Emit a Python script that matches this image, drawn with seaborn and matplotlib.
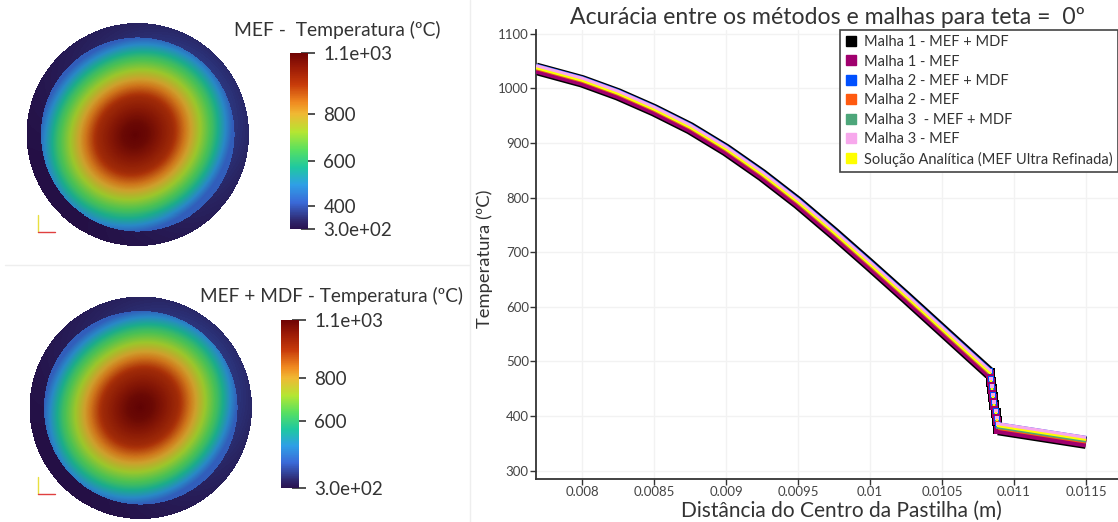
import numpy as np
import pandas as pd
import matplotlib
matplotlib.use("Agg")
import matplotlib.pyplot as plt
from matplotlib.colors import LinearSegmentedColormap
from matplotlib.lines import Line2D
import seaborn as sns

W, H = 1118, 522

# radial temperature profile of the pellet
profile_r = [0.0, 0.13, 0.39, 0.55, 0.67, 0.80, 0.91, 1.0]
profile_t = [1100, 1080, 980, 844, 740, 636, 524, 428]
ring_cold = 300
ring_warm = 362

colorbar_labels_1 = ["1.1e+03", "800", "600", "400", "3.0e+02"]
colorbar_labels_2 = ["1.1e+03", "800", "600", "3.0e+02"]

# colours sampled along the legend bar, bottom to top
bar_nodes = [0.0, 0.05, 0.15, 0.25, 0.35, 0.45, 0.55, 0.655, 0.72, 0.82, 0.92, 1.0]
bar_colors = ["#2a1250", "#2f2a72", "#3a6ad8", "#2f9fe6", "#1fc8a0", "#58e060",
              "#b4e632", "#f0b833", "#f08a20", "#c83c0a", "#9a1a06", "#700404"]

distance = [0.00768, 0.0080, 0.00825, 0.0085, 0.00875, 0.0090, 0.00925, 0.0095,
            0.00975, 0.0100, 0.01025, 0.0105, 0.0107, 0.01083, 0.010839, 0.010847,
            0.010856, 0.010864, 0.010873, 0.010881, 0.01089, 0.0115]
malha1_mef_mdf = [1036, 1013, 989, 960, 927, 887, 841, 790, 734, 676, 617, 557, 509, 478,
                  463, 449, 434, 420, 405, 391, 376, 351]
malha1_mef = [1035, 1012, 988, 959, 926, 886, 840, 789, 733, 675, 616, 556, 508, 477,
              462, 448, 433, 419, 404, 390, 375, 350]
malha2_mef_mdf = [1040, 1017, 993, 964, 931, 891, 845, 794, 738, 680, 621, 561, 513, 482,
                  467, 453, 438, 424, 409, 395, 383, 358]
malha2_mef = [1038, 1015, 991, 962, 929, 889, 843, 792, 736, 678, 619, 559, 511, 480,
              465, 451, 436, 422, 407, 393, 379, 354]
malha3_mef_mdf = [1039, 1016, 992, 963, 930, 890, 844, 793, 737, 679, 620, 560, 512, 481,
                  466, 452, 437, 423, 408, 394, 380, 355]
malha3_mef = [1041, 1018, 994, 965, 932, 892, 846, 795, 739, 681, 622, 562, 514, 483,
              468, 454, 439, 425, 410, 396, 385, 360]
analitica = [1037, 1014, 990, 961, 928, 888, 842, 791, 735, 677, 618, 558, 510, 479,
             464, 450, 435, 421, 406, 392, 381, 356]

names = ["Malha 1 - MEF + MDF", "Malha 1 - MEF", "Malha 2 - MEF + MDF", "Malha 2 - MEF",
         "Malha 3  - MEF + MDF", "Malha 3 - MEF", "Solução Analítica (MEF Ultra Refinada)"]
series = [malha1_mef_mdf, malha1_mef, malha2_mef_mdf, malha2_mef,
          malha3_mef_mdf, malha3_mef, analitica]
colors = ["#000000", "#a0006e", "#0050ff", "#ff5a10", "#4da67a", "#f7a8ec", "#ffff00"]
line_px = [12.5, 8.5, 6.0, 5.0, 4.0, 4.0, 2.0]
square_px = [10.5, 8.0, 5.5, 4.5, 4.0, 3.5, 1.6]

bar_cmap = LinearSegmentedColormap.from_list("bar", list(zip(bar_nodes, bar_colors)))
disc_rgb = [tuple(0.86 * c for c in matplotlib.colors.to_rgb(col)) for col in bar_colors]
disc_cmap = LinearSegmentedColormap.from_list("disc", list(zip(bar_nodes, disc_rgb)))


def px_axes(fig, x0, y0, x1, y1):
    return fig.add_axes([x0 / W, 1 - y1 / H, (x1 - x0) / W, (y1 - y0) / H])


def draw_disc(fig, cx, cy, hot_x, hot_y):
    r_out, r_in = 111.5, 97.0
    ax = px_axes(fig, cx - r_out, cy - r_out, cx + r_out, cy + r_out)
    n = 446
    px = np.linspace(-r_out, r_out, n)
    xx, yy = np.meshgrid(px, px)
    rr = np.hypot(xx, yy)
    # hot zone is a slightly tilted ellipse
    u = ((xx - (hot_x - cx)) - (yy - (hot_y - cy))) / np.sqrt(2)
    v = ((xx - (hot_x - cx)) + (yy - (hot_y - cy))) / np.sqrt(2)
    s = np.hypot(u / 1.05, v / 0.95) / r_in
    field = np.interp(s, profile_r, profile_t)
    # the cladding ring goes from warm at the upper right to cold at the lower right
    ang = np.arctan2(-yy, xx)
    k = 0.5 + 0.5 * np.cos(ang - np.radians(35))
    ring = ring_cold + (ring_warm - ring_cold) * k * (1.1 - 0.3 * (rr - r_in) / (r_out - r_in))
    field = np.where(rr < r_in, field, ring)
    sns.heatmap(field, mask=rr > r_out, cmap=disc_cmap, vmin=300, vmax=1100, cbar=False,
                xticklabels=False, yticklabels=False, ax=ax, rasterized=True)
    ax.axis("off")


def draw_colorbar(fig, x0, y0, x1, y1, fracs, labels):
    ax = px_axes(fig, x0, y0, x1, y1)
    n = 256
    grad = np.linspace(1100, 300, n).reshape(-1, 1)
    sns.heatmap(grad, cmap=bar_cmap, vmin=300, vmax=1100, cbar=False,
                xticklabels=False, yticklabels=False, ax=ax)
    ax.yaxis.tick_right()
    ax.set_yticks([f * n for f in fracs])
    ax.set_yticklabels(labels, rotation=0, fontsize=13.5, color="#333333")
    ax.tick_params(axis="y", direction="inout", length=10, width=1.1, color="#222222",
                   pad=6, right=True, left=False)
    for t in ax.yaxis.get_major_ticks():
        t.tick2line.set_clip_on(False)
    ax.set_xticks([])


sns.set_theme(style="white")
plt.rcParams["font.family"] = ["Lato", "DejaVu Sans"]

fig = plt.figure(figsize=(W / 100, H / 100), dpi=100)

draw_disc(fig, 137.5, 134.5, 135, 135)
draw_disc(fig, 140.5, 407.5, 140, 407)
draw_colorbar(fig, 290, 53, 308, 229, [0.0, 0.344, 0.616, 0.872, 1.0], colorbar_labels_1)
draw_colorbar(fig, 281, 320, 299, 488, [0.0, 0.345, 0.60, 1.0], colorbar_labels_2)
fig.text(441 / W, 1 - 30 / H, "MEF -  Temperatura (ºC)", ha="right", va="center",
         fontsize=13.9, color="#333333")
fig.text(463 / W, 1 - 296 / H, "MEF + MDF - Temperatura (ºC)", ha="right", va="center",
         fontsize=13.7, color="#333333")

# line chart
ax = px_axes(fig, 535.7, 30, W, 479.3)
df = pd.DataFrame({"distance": distance})
for name, values in zip(names, series):
    df[name] = values
long_df = df.melt(id_vars="distance", var_name="serie", value_name="temperatura")
# the steep stretch across the gap only shows its square markers
fuel = long_df[long_df["distance"] <= 0.01083]
clad = long_df[long_df["distance"] >= 0.01089]
steep = long_df[(long_df["distance"] >= 0.01083) & (long_df["distance"] <= 0.01089)]

for i, (name, color) in enumerate(zip(names, colors)):
    for part in [fuel, clad]:
        sns.lineplot(data=part[part["serie"] == name], x="distance", y="temperatura",
                     color=color, linewidth=line_px[i] * 0.72, ax=ax, legend=False,
                     sort=False, errorbar=None, zorder=2 + 2 * i)
        ax.lines[-1].set_solid_joinstyle("round")
        ax.lines[-1].set_solid_capstyle("butt")
    sns.scatterplot(data=steep[steep["serie"] == name], x="distance", y="temperatura",
                    color=color, marker="s", s=(square_px[i] * 0.72) ** 2, linewidth=0, ax=ax,
                    legend=False, zorder=3 + 2 * i)

ax.set_xlim(0.007678, 0.011722)
ax.set_ylim(284, 1107)
ax.set_xticks([0.008, 0.0085, 0.009, 0.0095, 0.01, 0.0105, 0.011, 0.0115])
ax.set_xticklabels(["0.008", "0.0085", "0.009", "0.0095", "0.01", "0.0105", "0.011", "0.0115"])
ax.set_yticks(range(300, 1101, 100))
ax.grid(True, color="#f2f2f2", linewidth=1)
ax.set_axisbelow(True)
sns.despine(ax=ax)
for side in ["left", "bottom"]:
    ax.spines[side].set_color("#333333")
    ax.spines[side].set_linewidth(1.3)
ax.tick_params(axis="both", length=4, width=1, color="#333333", labelcolor="#444444",
               labelsize=9.5, left=True, bottom=True, pad=1)
ax.set_title("Acurácia entre os métodos e malhas para teta =  0º", fontsize=16.6, color="#333333",
             x=(827.5 - 535.7) / (W - 535.7), y=1.0, pad=4)
ax.set_xlabel("Distância do Centro da Pastilha (m)", fontsize=15, color="#333333")
ax.xaxis.set_label_coords((841 - 535.7) / (W - 535.7), -0.048)
ax.set_ylabel("Temperatura (ºC)", fontsize=13.2, color="#333333")
ax.yaxis.set_label_coords((493 - 535.7) / (W - 535.7), 0.49)

handles = [Line2D([], [], linestyle="none", marker="s", markersize=7, color=c) for c in colors]
leg = ax.legend(handles, names, loc="upper right", bbox_to_anchor=(1.0, 1.0), borderaxespad=0,
                fontsize=10.5, frameon=True, fancybox=False, edgecolor="#444444", framealpha=1,
                labelspacing=0.37, handlelength=0.8, handletextpad=0.5, borderpad=0.35,
                labelcolor="#333333")
leg.get_frame().set_linewidth(1.2)
leg.set_zorder(50)

# separators and the small orientation triads of the disc views
over = fig.add_axes([0, 0, 1, 1], zorder=5)
over.set_xlim(0, W)
over.set_ylim(H, 0)
over.axis("off")
over.plot([5, 470], [265, 265], color="#eeeeee", lw=1)
over.plot([470, 470], [0, H], color="#eeeeee", lw=1)
for y_base in [232, 494]:
    over.plot([38, 38], [y_base - 17, y_base], color="#e8e040", lw=1)
    over.plot([38, 55], [y_base, y_base], color="#e04040", lw=1)

fig.savefig("out.png", dpi=100)
